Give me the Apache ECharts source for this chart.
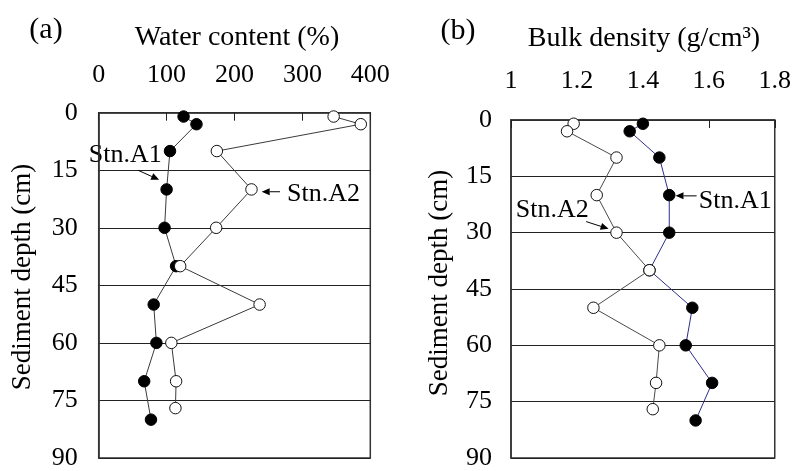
<!DOCTYPE html>
<html>
<head>
<meta charset="utf-8">
<script src="https://cdn.jsdelivr.net/npm/echarts@6/dist/echarts.min.js"></script>
<style>
  html, body { margin: 0; padding: 0; background: #fff; }
  #chart { width: 794px; height: 471px; }
</style>
</head>
<body>
<div id="chart"></div>
<script>
// Sampling depths (cm) for the two stations
const depthA1 = [1, 3, 10, 20, 30, 40, 50, 60, 70, 80];
const depthA2 = [1, 3, 10, 20, 30, 40, 50, 60, 70, 77];

// (a) water content (%)
const waterA1 = [125, 144, 105, 100, 97, 114, 81, 85, 67, 77];
const waterA2 = [346, 386, 174, 225, 173, 120, 237, 107, 114, 113];

// (b) bulk density (g/cm3)
const densityA1 = [1.40, 1.36, 1.45, 1.48, 1.48, 1.42, 1.55, 1.53, 1.61, 1.56];
const densityA2 = [1.19, 1.17, 1.32, 1.26, 1.32, 1.42, 1.25, 1.45, 1.44, 1.43];

const depthTicks = [0, 15, 30, 45, 60, 75, 90];
const waterTicks = [0, 100, 200, 300, 400];
const densityTicks = [1, 1.2, 1.4, 1.6, 1.8];

const FONT = 'Liberation Serif';

const pairs = (xs, ys) => xs.map((v, i) => [v, ys[i]]);

const chart = echarts.init(document.getElementById('chart'), null, { renderer: 'canvas' });

function depthAxis(gridIndex, margin) {
  return {
    type: 'value', gridIndex, inverse: true,
    min: depthTicks[0], max: depthTicks[depthTicks.length - 1],
    interval: depthTicks[1] - depthTicks[0],
    axisLine: { show: true, lineStyle: { color: '#333', width: 1.5 } },
    axisTick: { show: false },
    axisLabel: { margin, color: '#000', fontFamily: FONT, fontSize: 26 },
    splitLine: { show: true, lineStyle: { color: '#222', width: 1 } }
  };
}

function topAxis(gridIndex, ticks, margin, digits) {
  return {
    type: 'value', gridIndex, position: 'top',
    min: ticks[0], max: ticks[ticks.length - 1],
    interval: +(ticks[1] - ticks[0]).toFixed(2),
    axisLine: { show: true, onZero: false, lineStyle: { color: '#333', width: 1.5 } },
    axisTick: { show: true, inside: true, length: 8, lineStyle: { color: '#222', width: 1 } },
    axisLabel: {
      margin, color: '#000', fontFamily: FONT, fontSize: 26,
      formatter: v => digits ? (Math.abs(v - Math.round(v)) < 1e-9 ? String(Math.round(v)) : v.toFixed(digits)) : String(v)
    },
    splitLine: { show: false }
  };
}

function profile(xAxisIndex, xs, ys, filled, lineColor) {
  return {
    type: 'line', xAxisIndex, yAxisIndex: xAxisIndex,
    data: pairs(xs, ys),
    symbol: 'circle', symbolSize: 11.5, clip: false,
    lineStyle: { color: lineColor, width: 1 },
    itemStyle: filled
      ? { color: '#000', borderColor: '#000', borderWidth: 1 }
      : { color: '#fff', borderColor: '#111', borderWidth: 1 },
    z: filled ? 2 : 3,
    animation: false
  };
}

chart.setOption({
  animation: false,
  grid: [
    { left: 98.7, top: 112.7, width: 271.6, height: 347, show: true, borderColor: '#333', borderWidth: 1.5, backgroundColor: 'transparent' },
    { left: 511, top: 120, width: 265.7, height: 343.7, show: true, borderColor: '#333', borderWidth: 1.5, backgroundColor: 'transparent' }
  ],
  xAxis: [topAxis(0, waterTicks, 25, 0), topAxis(1, densityTicks, 26, 1)],
  yAxis: [depthAxis(0, 21), depthAxis(1, 19)],
  series: [
    profile(0, waterA1, depthA1, true, '#3a3a3a'),
    profile(0, waterA2, depthA2, false, '#3a3a3a'),
    profile(1, densityA1, depthA1, true, '#2e2e8a'),
    profile(1, densityA2, depthA2, false, '#4a4a4a')
  ]
});

// Station callouts: text anchor and arrow (tail -> tip), in data units of each panel
const callouts = [
  { grid: 0, text: 'Stn.A1', at: [39, 11.0], tail: [58, 15.0], tip: [89, 17.5] },
  { grid: 0, text: 'Stn.A2', at: [331, 21.3], tail: [267, 20.6], tip: [240, 20.6] },
  { grid: 1, text: 'Stn.A1', at: [1.68, 21.7], tail: [1.563, 20.2], tip: [1.499, 20.2] },
  { grid: 1, text: 'Stn.A2', at: [1.125, 24.0], tail: [1.228, 27.05], tip: [1.296, 28.99] }
];

const toPx = (g, p) => chart.convertToPixel({ gridIndex: g }, p);

const graphics = [];
const textEl = (x, y, text, size, extra) => Object.assign({
  type: 'text', x, y, silent: true,
  style: { text, fontFamily: FONT, fontSize: size, fill: '#000', textAlign: 'center', textVerticalAlign: 'middle' }
}, extra || {});

// panel letters and axis titles
graphics.push(textEl(46, 30, '(a)', 30));
graphics.push(textEl(458, 31, '(b)', 30));
graphics.push(textEl(237, 38, 'Water content (%)', 28));
graphics.push(textEl(644, 39, 'Bulk density (g/cm³)', 28));
graphics.push(textEl(23, 277, 'Sediment depth (cm)', 27, { rotation: Math.PI / 2 }));
graphics.push(textEl(440, 283, 'Sediment depth (cm)', 27, { rotation: Math.PI / 2 }));

callouts.forEach(c => {
  const t = toPx(c.grid, c.at);
  const s = toPx(c.grid, c.tail);
  const e = toPx(c.grid, c.tip);
  graphics.push(textEl(t[0], t[1], c.text, 26));
  const dx = e[0] - s[0], dy = e[1] - s[1];
  const len = Math.hypot(dx, dy);
  const ux = dx / len, uy = dy / len;
  const headLen = 8, headHalf = 3.5;
  const bx = e[0] - ux * headLen, by = e[1] - uy * headLen;
  graphics.push({
    type: 'line', silent: true,
    shape: { x1: s[0], y1: s[1], x2: bx, y2: by },
    style: { stroke: '#000', lineWidth: 1 }
  });
  graphics.push({
    type: 'polygon', silent: true,
    shape: { points: [[e[0], e[1]], [bx - uy * headHalf, by + ux * headHalf], [bx + uy * headHalf, by - ux * headHalf]] },
    style: { fill: '#000' }
  });
});

chart.setOption({ graphic: graphics });
</script>
</body>
</html>
